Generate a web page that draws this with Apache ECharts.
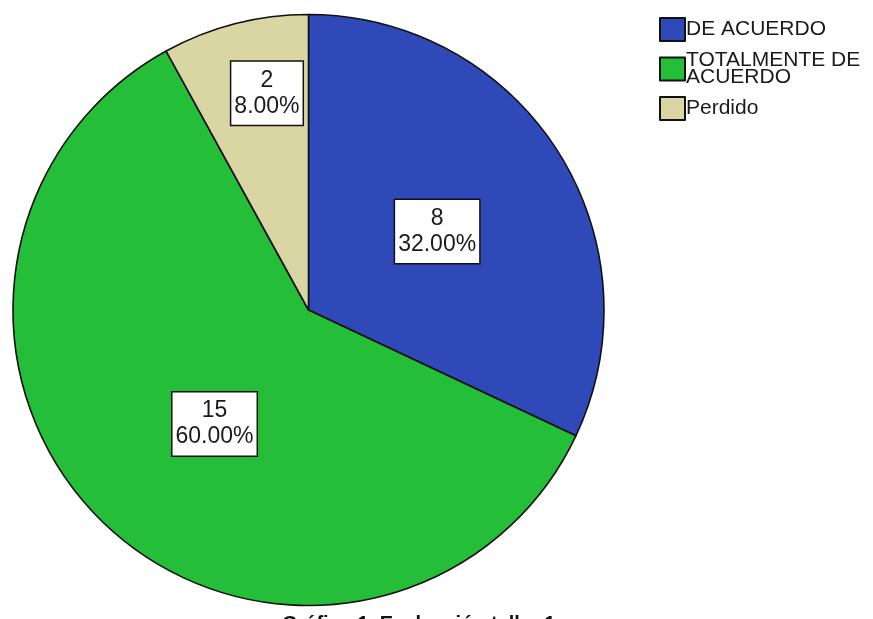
<!DOCTYPE html>
<html>
<head>
<meta charset="utf-8">
<script src="https://cdn.jsdelivr.net/npm/echarts@6/dist/echarts.min.js"></script>
<style>
  html, body { margin: 0; padding: 0; background: #fff; }
  #chart { width: 873px; height: 619px; }
</style>
</head>
<body>
<div id="chart"></div>
<script>
// Responses to the workshop evaluation
const categories = ['DE ACUERDO', 'TOTALMENTE DE ACUERDO', 'Perdido'];
const counts = [8, 15, 2];
const colors = ['#3049B8', '#25BE38', '#DAD6A3'];
const chartTitle = 'Gráfico 1. Evaluación taller 1';

const total = counts.reduce((a, b) => a + b, 0);
const chart = echarts.init(document.getElementById('chart'));

const R = 295.5;
// label placement per slice: radius as a fraction of R and a small angular
// nudge (degrees, clockwise) away from the bisector
const labelRadius = [0.5, 0.49, 0.737];
const labelTurn = [1.0, -3.8, 3.6];

// mid-angle of each slice (clockwise from 12 o'clock)
const midAngles = [];
let acc = 0;
counts.forEach(v => {
  midAngles.push((acc + v / 2) / total * 2 * Math.PI);
  acc += v;
});

chart.setOption({
  animation: false,
  legend: {
    orient: 'vertical',
    left: 654,
    top: 12,
    itemWidth: 25,
    itemHeight: 23,
    itemGap: 8,
    icon: 'rect',
    data: categories,
    formatter: name => name === 'TOTALMENTE DE ACUERDO' ? 'TOTALMENTE DE\nACUERDO' : name,
    textStyle: {
      fontFamily: 'Liberation Sans, Arial, sans-serif',
      fontSize: 21,
      lineHeight: 17,
      color: '#1a1a1a',
      padding: [0, 0, 0, -4]
    }
  },
  graphic: [{
    type: 'text',
    left: 282,
    top: 614,
    style: {
      text: chartTitle,
      fontFamily: 'Liberation Sans, Arial, sans-serif',
      fontWeight: 'bold',
      fontSize: 20,
      fill: '#111'
    }
  }],
  series: [{
    type: 'pie',
    center: [308.5, 310],
    radius: [0, R],
    startAngle: 90,
    clockwise: true,
    silent: true,
    data: categories.map((name, i) => ({
      name,
      value: counts[i],
      itemStyle: { color: colors[i] }
    })),
    itemStyle: { borderColor: '#111', borderWidth: 1.6 },
    label: {
      show: true,
      position: 'inside',
      formatter: p => p.value + '\n' + (p.value / total * 100).toFixed(2) + '%',
      fontFamily: 'Liberation Sans, Arial, sans-serif',
      fontSize: 23,
      lineHeight: 26,
      color: '#1a1a1a',
      backgroundColor: '#fff',
      borderColor: '#111',
      borderWidth: 1.5,
      padding: [6, 3, 5, 3],
      align: 'center'
    },
    labelLayout: params => {
      const i = params.dataIndex;
      const a0 = midAngles[i];
      const a1 = a0 + labelTurn[i] * Math.PI / 180;
      const r1 = labelRadius[i] * R;
      const r0 = 0.5 * R;
      return {
        dx: Math.sin(a1) * r1 - Math.sin(a0) * r0,
        dy: -Math.cos(a1) * r1 + Math.cos(a0) * r0
      };
    },
    labelLine: { show: false }
  }]
});
</script>
</body>
</html>
